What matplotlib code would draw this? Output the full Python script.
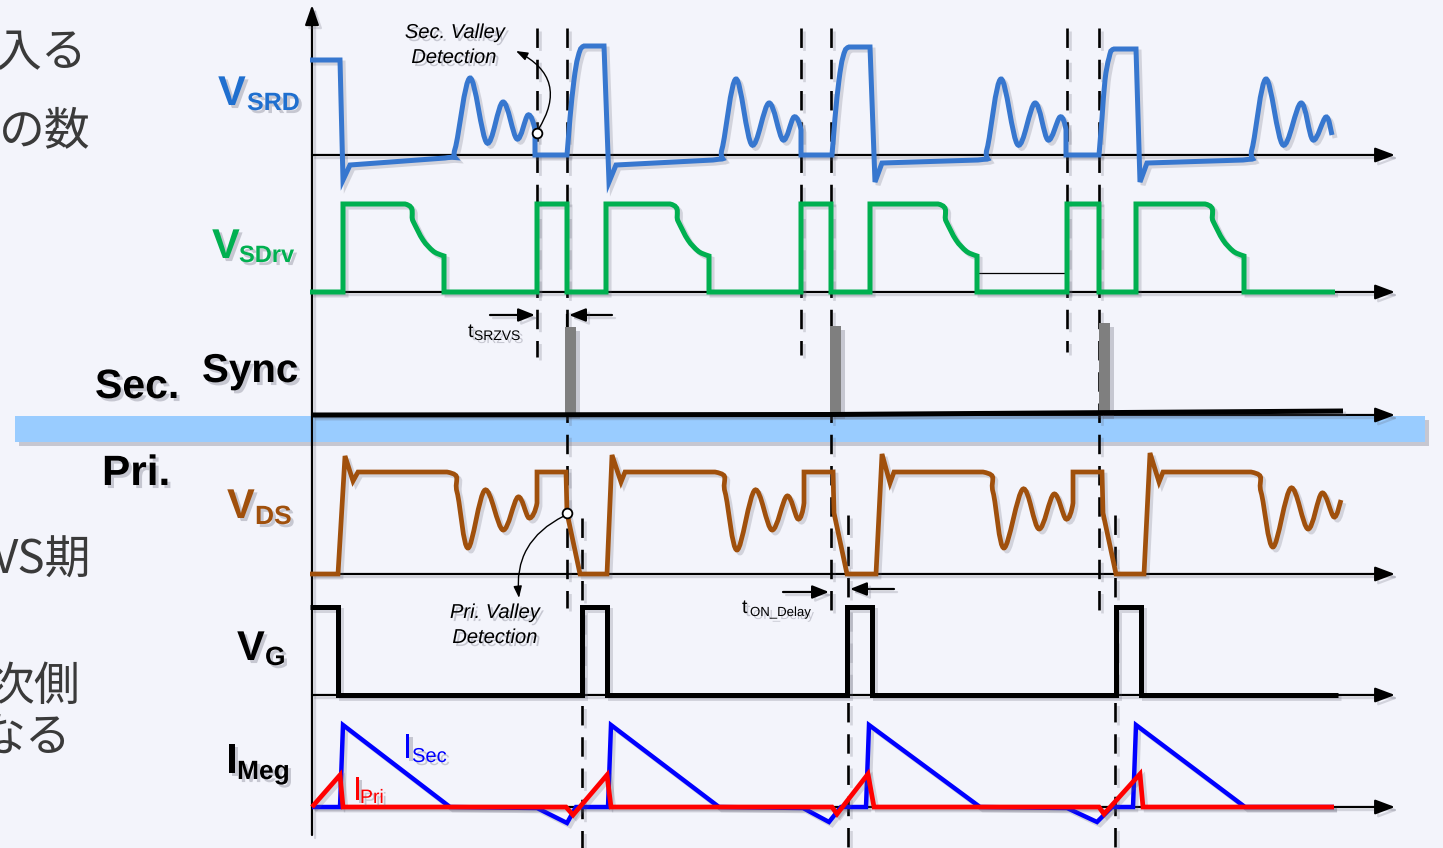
import matplotlib
matplotlib.use('Agg')
import matplotlib.pyplot as plt
import numpy as np
from matplotlib.path import Path
from matplotlib.patches import PathPatch, Rectangle
import matplotlib.patheffects as pe

plt.rcParams['lines.scale_dashes'] = False

# ---------------------------------------------------------------------------
# Waveform data (pixel space: x right, y down)
# kinds: one char per vertex, 'M' start, 'L' straight into vertex, 'S' smooth
# ---------------------------------------------------------------------------
vsrd_x = [310, 340, 343, 350, 445, 455, 470, 487, 503, 517, 528, 535, 535, 567, 570, 574, 578, 584, 604,
          609, 616, 713, 722, 736, 752, 769, 783, 794, 801, 801, 832, 835, 839, 843, 849, 870,
          875, 882, 978, 987, 1001, 1018, 1035, 1048, 1060, 1066, 1066, 1099, 1102, 1105, 1109, 1114, 1136,
          1140, 1147, 1243, 1252, 1266, 1283, 1301, 1313, 1326, 1332]
vsrd_y = [60, 60, 180, 165, 158, 149, 78, 143, 102, 139, 115, 130, 155, 155, 118, 80, 57, 46, 46,
          182, 165, 160, 149, 79, 145, 103, 140, 117, 130, 155, 155, 118, 80, 57, 47, 47,
          182, 163, 160, 149, 79, 145, 103, 140, 117, 130, 155, 155, 118, 80, 58, 49, 49,
          182, 163, 160, 149, 79, 145, 103, 140, 117, 135]
vsrd_k = "MLLLLSSSSSSSLLLSSSL" "LLLSSSSSSSLLLSSSL" "LLLSSSSSSSLLLSSSL" "LLLSSSSSSS"

vsdrv_x = [310, 343, 343, 405, 413, 423, 433, 441, 444, 444, 537, 537, 567, 567,
           606, 606, 670, 678, 688, 698, 706, 709, 709, 801, 801, 831, 831,
           870, 870, 938, 946, 956, 966, 974, 977, 977, 1067, 1067, 1099, 1099,
           1136, 1136, 1205, 1213, 1223, 1233, 1241, 1244, 1244, 1335]
vsdrv_y = [292, 292, 204, 204, 221, 240, 251, 255, 256, 292, 292, 204, 204, 292,
           292, 204, 204, 221, 240, 251, 255, 256, 292, 292, 204, 204, 292,
           292, 204, 204, 221, 240, 251, 255, 256, 292, 292, 204, 204, 292,
           292, 204, 204, 221, 240, 251, 255, 256, 292, 292]
vsdrv_k = "MLLLSSSSLLLLLL" "LLLSSSSLLLLLL" "LLLSSSSLLLLLL" "LLLSSSSLLL"

vds_x = [310, 338, 345, 353, 358, 447, 457, 468, 485, 503, 518, 529, 537, 537, 566, 567, 580, 607,
         612, 621, 625, 715, 725, 737, 755, 772, 787, 798, 804, 804, 833, 834, 847, 876,
         882, 890, 894, 983, 993, 1004, 1023, 1039, 1054, 1066, 1073, 1073, 1102, 1103, 1116, 1144,
         1150, 1159, 1163, 1251, 1261, 1273, 1291, 1308, 1322, 1334, 1341]
vds_y = [574, 574, 456, 481, 472, 472, 492, 548, 490, 530, 497, 518, 503, 472, 472, 513, 574, 574,
         455, 482, 472, 472, 492, 550, 490, 530, 496, 519, 503, 472, 472, 513, 574, 574,
         454, 483, 472, 472, 492, 548, 489, 529, 494, 519, 503, 472, 472, 513, 574, 574,
         453, 482, 472, 472, 492, 547, 488, 529, 493, 517, 500]
vds_k = "MLLLLLSSSSSSSLLLLL" "LLLLSSSSSSSLLLLL" "LLLLSSSSSSSLLLLL" "LLLLSSSSSSS"

vg_x = [310, 338, 338, 582, 582, 607, 607, 847, 847, 872, 872, 1116, 1116, 1141, 1141, 1338]
vg_y = [607, 607, 695, 695, 607, 607, 695, 695, 607, 607, 695, 695, 607, 607, 695, 695]

isec_x = [312, 340, 343, 450, 537, 567, 576, 608, 611, 719, 803, 829, 841, 866, 869, 980,
          1067, 1097, 1112, 1133, 1136, 1245, 1334]
isec_y = [807, 807, 725, 807, 808, 823, 807, 807, 725, 807, 808, 822, 807, 807, 725, 807,
          808, 822, 807, 807, 725, 807, 807]

ipri_x = [312, 340, 343, 566, 573, 607, 611, 832, 837, 868, 874, 1099, 1104, 1140, 1143, 1334]
ipri_y = [807, 775, 807, 807, 815, 775, 807, 807, 814, 774, 807, 807, 814, 774, 807, 807]

sync_x = [312, 830, 1343]
sync_y = [415, 414.5, 411]
sync_bar_x = [570, 835.5, 1104]
sync_bar_top = [327, 326, 323]

axis_y = [155, 292, 415, 574, 695, 807]

dash_x = [537, 567, 801, 831, 1067, 1099, 582, 848, 1115]
dash_y0 = [28, 28, 28, 28, 28, 28, 518, 515, 515]
dash_y1 = [357, 608, 355, 610, 352, 610, 848, 848, 848]

label_main = ['V', 'V', 'V', 'V', 'I']
label_sub = ['SRD', 'SDrv', 'DS', 'G', 'Meg']
jp_lines = ['入る', 'の数', 'VS期', '次側', 'なる']

# ---------------------------------------------------------------------------
W, H = 1443, 848
BG = '#F3F4FB'
fig = plt.figure(figsize=(W / 100, H / 100), dpi=100, facecolor=BG)
ax = fig.add_axes([0, 0, 1, 1])
ax.set_xlim(0, W)
ax.set_ylim(H, 0)
ax.axis('off')
ax.set_facecolor(BG)

lshadow = [pe.SimpleLineShadow(offset=(2.2, -2.2), shadow_color='#606070', alpha=0.22), pe.Normal()]
tshadow = [pe.SimplePatchShadow(offset=(2.2, -2.2), shadow_rgbFace='#606070', alpha=0.3), pe.Normal()]
pshadow = [pe.SimplePatchShadow(offset=(3, -3), shadow_rgbFace='#606070', alpha=0.3), pe.Normal()]


def trace_path(xs, ys, kinds):
    P = np.column_stack([xs, ys]).astype(float)
    n = len(P)
    verts = [P[0]]
    codes = [Path.MOVETO]
    for i in range(1, n):
        if kinds[i] == 'L':
            verts.append(P[i]); codes.append(Path.LINETO)
        else:
            p0, p1 = P[i - 1], P[i]
            pm = P[i - 2] if i >= 2 else p0
            pp = P[i + 1] if i + 1 < n else p1
            c1 = p0 + (p1 - pm) / 6.0
            c2 = p1 - (pp - p0) / 6.0
            verts += [c1, c2, p1]
            codes += [Path.CURVE4] * 3
    return Path(verts, codes)


def draw_trace(xs, ys, kinds, color, lw, z=6):
    if kinds is None:
        kinds = 'M' + 'L' * (len(xs) - 1)
    patch = PathPatch(trace_path(xs, ys, kinds), fill=False, ec=color, lw=lw,
                      joinstyle='miter', capstyle='butt', zorder=z, path_effects=lshadow)
    ax.add_patch(patch)


def arrow(x0, y0, x1, y1, lw=1.5, hl=1.2, hw=0.47, z=4, shadow=True):
    ax.annotate('', xy=(x1, y1), xytext=(x0, y0), zorder=z,
                arrowprops=dict(arrowstyle=f'-|>,head_length={hl},head_width={hw}',
                                lw=lw, color='k', shrinkA=0, shrinkB=0,
                                path_effects=lshadow if shadow else None))


# axes
arrow(312, 835, 312, 5, lw=1.6, hl=1.2, hw=0.42)
for ya in axis_y:
    arrow(312, ya, 1395, ya, lw=1.6, hl=1.2, hw=0.45)

# secondary / primary separator band
band = Rectangle((15, 416), 1410, 26, facecolor='#99CCFF', edgecolor='none', zorder=3,
                 path_effects=pshadow)
ax.add_patch(band)

# dashed timing lines
for x, y0, y1 in zip(dash_x, dash_y0, dash_y1):
    ax.plot([x, x], [y0, y1], color='k', lw=1.9, ls=(0, (14, 8.5)), zorder=4,
            path_effects=lshadow)

# sync pulses
ax.bar(sync_bar_x, [t - 415 for t in sync_bar_top], bottom=415, width=11,
       color='#7F7F7F', zorder=5, path_effects=pshadow)
ax.plot(sync_x, sync_y, color='k', lw=3.6, zorder=5, solid_capstyle='butt', path_effects=lshadow)

# thin reference line in VSDrv
ax.plot([977, 1067], [273, 273], color='k', lw=0.9, zorder=5)

# traces
draw_trace(vsrd_x, vsrd_y, vsrd_k, '#3777CF', 3.6)
draw_trace(vsdrv_x, vsdrv_y, vsdrv_k, '#00B050', 3.6)
draw_trace(vds_x, vds_y, vds_k, '#A0500C', 3.4)
draw_trace(vg_x, vg_y, None, 'k', 3.6)
draw_trace(isec_x, isec_y, None, '#0000FF', 3.2)
draw_trace(ipri_x, ipri_y, None, '#FF0000', 3.4)

# valley detection markers
ax.plot([537, 567], [133, 513], ls='none', marker='o', ms=7, mfc='white', mec='k', mew=1.3, zorder=8)

# curved annotation arrows
ax.annotate('', xy=(516, 51), xytext=(538, 130), zorder=7,
            arrowprops=dict(arrowstyle='-|>,head_length=0.7,head_width=0.25', lw=1.0, color='k',
                            shrinkA=0, shrinkB=0, connectionstyle='arc3,rad=0.55'))
ax.annotate('', xy=(519, 598), xytext=(564, 516), zorder=7,
            arrowprops=dict(arrowstyle='-|>,head_length=0.7,head_width=0.25', lw=1.0, color='k',
                            shrinkA=0, shrinkB=0, connectionstyle='arc3,rad=0.35'))

# timing arrows
arrow(490, 315, 535, 315, lw=1.6, hl=1.0, hw=0.4)
arrow(612, 315, 569, 315, lw=1.6, hl=1.0, hw=0.4)
ax.plot([567, 567], [315, 327], color='k', lw=1.6, zorder=4)
arrow(783, 592, 829, 592, lw=1.6, hl=1.0, hw=0.4)
arrow(894, 589, 850, 589, lw=1.6, hl=1.0, hw=0.4)

# ---------------------------------------------------------------------------
# text
SANS = 'Liberation Sans'


def txt(x, y, s, size, color='k', weight='bold', style='normal', ha='left', family=SANS, shadow=True):
    ax.text(x, y, s, fontsize=size, color=color, fontweight=weight, fontstyle=style,
            ha=ha, va='baseline', family=family, zorder=9,
            path_effects=tshadow if shadow else None)


lab_pos = [((218, 105), (247, 110)), ((212, 258), (239, 262)), ((227, 518), (255, 524)),
           ((237, 660), (265, 665)), ((226, 773), (237, 779))]
lab_size = [(30, 18), (30, 17), (30, 19), (30, 19), (30, 19)]
lab_col = ['#1F6FCF', '#00B050', '#A0500C', 'k', 'k']
for m, s, (pm, ps), (sm, ss), c in zip(label_main, label_sub, lab_pos, lab_size, lab_col):
    txt(pm[0], pm[1], m, sm, c)
    txt(ps[0], ps[1], s, ss, c)

txt(202, 382, 'Sync', 29)
txt(95, 398, 'Sec.', 29.5)
txt(102, 485, 'Pri.', 30.5)

txt(403, 758, 'I', 25, '#0000FF', weight='normal')
txt(412, 762, 'Sec', 14.5, '#0000FF', weight='normal')
txt(353, 800, 'I', 24, '#FF0000', weight='normal')
txt(360, 803, 'Pri', 14, '#FF0000', weight='normal')

txt(468, 337, 't', 14, weight='normal')
txt(474, 340, 'SRZVS', 10, weight='normal')
txt(742, 613, 't', 14, weight='normal')
txt(750, 616, 'ON_Delay', 9.5, weight='normal')

txt(455, 38, 'Sec. Valley', 14.5, weight='normal', style='italic', ha='center')
txt(454, 63, 'Detection', 14.5, weight='normal', style='italic', ha='center')
txt(495, 618, 'Pri. Valley', 14.5, weight='normal', style='italic', ha='center')
txt(495, 643, 'Detection', 14.5, weight='normal', style='italic', ha='center')

# slide text cut off at the left edge (as in the reference)
jp_pos = [(87, 66), (91, 144), (91, 574), (80, 700), (71, 751)]
for s, (x, y) in zip(jp_lines, jp_pos):
    ax.text(x, y, s, fontsize=33, color='#3A3A3A', ha='right', va='baseline',
            family=['Noto Sans CJK JP', 'DejaVu Sans'], zorder=9)

fig.savefig('out.png', dpi=100, facecolor=BG)
